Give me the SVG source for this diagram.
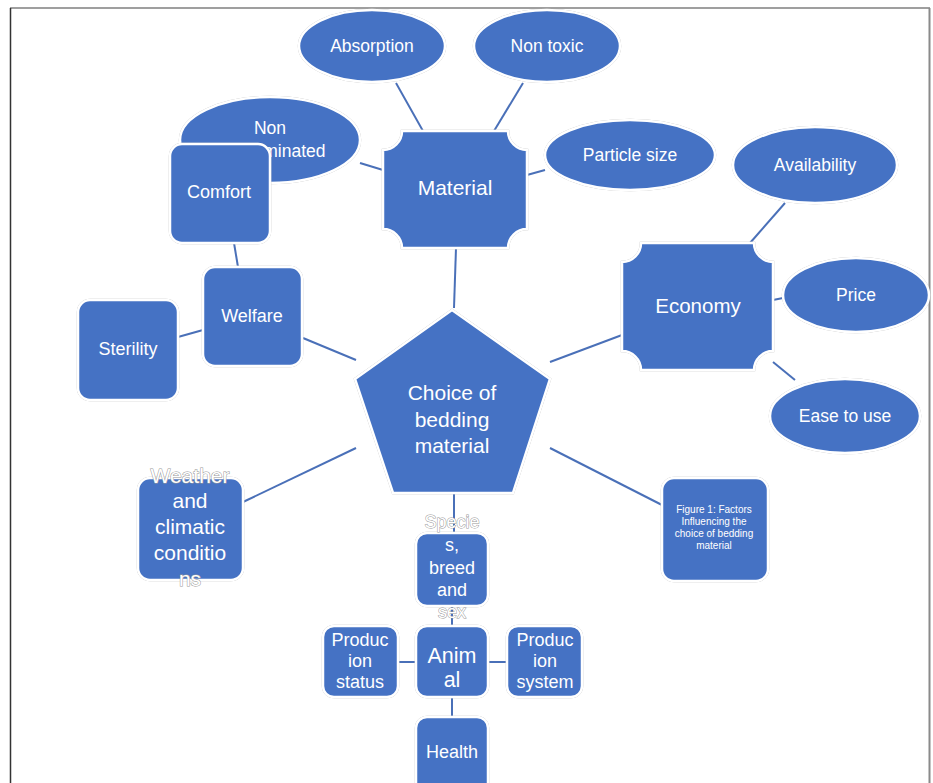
<svg xmlns="http://www.w3.org/2000/svg" width="933" height="783" viewBox="0 0 933 783">
<defs>
<style>
.n{fill:#4472C4;stroke:#fff;stroke-width:2.5;filter:url(#sh)}
.t{fill:#fff;font-family:"Liberation Sans",Arial,sans-serif;text-anchor:middle}
.ov{stroke:#999;stroke-width:1;paint-order:stroke}
.c{stroke:#4a70b8;stroke-width:2;fill:none}
</style>
<filter id="sh" x="-10%" y="-10%" width="120%" height="120%">
<feDropShadow dx="0" dy="0" stdDeviation="0.7" flood-color="#8a8a8a" flood-opacity="0.9"/>
</filter>
</defs>
<rect width="933" height="783" fill="#fff"/>
<g id="frame" fill="none">
<line x1="10" y1="8" x2="930" y2="8" stroke="#7f7f7f" stroke-width="1.5"/>
<line x1="10.5" y1="8" x2="10.5" y2="783" stroke="#333" stroke-width="1.5"/>
<line x1="929.5" y1="8" x2="929.5" y2="783" stroke="#8a8a8a" stroke-width="2"/>
</g>
<g id="connectors">
<line class="c" x1="396" y1="83" x2="423" y2="131"/>
<line class="c" x1="523" y1="83" x2="494" y2="131"/>
<line class="c" x1="360" y1="163" x2="383" y2="170"/>
<line class="c" x1="527" y1="175" x2="545" y2="170"/>
<line class="c" x1="456" y1="248" x2="454" y2="308"/>
<line class="c" x1="356" y1="360" x2="303" y2="338"/>
<line class="c" x1="238" y1="267" x2="234" y2="243"/>
<line class="c" x1="203" y1="330" x2="178" y2="337"/>
<line class="c" x1="550" y1="362" x2="622" y2="335"/>
<line class="c" x1="750" y1="243" x2="785" y2="203"/>
<line class="c" x1="773" y1="300" x2="783" y2="298"/>
<line class="c" x1="773" y1="362" x2="795" y2="380"/>
<line class="c" x1="356" y1="448" x2="243" y2="502"/>
<line class="c" x1="550" y1="448" x2="662" y2="505"/>
<line class="c" x1="454" y1="493" x2="454" y2="533"/>
<line class="c" x1="452" y1="606" x2="452" y2="626"/>
<line class="c" x1="398" y1="662" x2="416" y2="662"/>
<line class="c" x1="487" y1="662" x2="507" y2="662"/>
<line class="c" x1="452" y1="697" x2="452" y2="717"/>
</g>
<g id="absorption"><ellipse class="n" cx="372" cy="46" rx="73" ry="36"/><text class="t" x="372" y="52" font-size="17.5">Absorption</text></g>
<g id="nontoxic"><ellipse class="n" cx="547" cy="46" rx="73" ry="36"/><text class="t" x="547" y="52" font-size="17.5">Non toxic</text></g>
<g id="noncontaminated"><ellipse class="n" cx="270" cy="140" rx="90" ry="43"/><text class="t" x="270" y="134" font-size="17.5">Non</text><text class="t" x="273" y="157" font-size="17.5">contaminated</text></g>
<g id="particlesize"><ellipse class="n" cx="630" cy="155" rx="85" ry="35"/><text class="t" x="630" y="161" font-size="17.5">Particle size</text></g>
<g id="availability"><ellipse class="n" cx="815" cy="165" rx="82" ry="38"/><text class="t" x="815" y="171" font-size="17.5">Availability</text></g>
<g id="price"><ellipse class="n" cx="856" cy="295" rx="73" ry="37"/><text class="t" x="856" y="301" font-size="17.5">Price</text></g>
<g id="easetouse"><ellipse class="n" cx="845" cy="416" rx="75" ry="37"/><text class="t" x="845" y="422" font-size="17.5">Ease to use</text></g>
<g id="material"><path class="n" d="M402,131 H508 A19,19 0 0 0 527,150 V229 A19,19 0 0 0 508,248 H402 A19,19 0 0 0 383,229 V150 A19,19 0 0 0 402,131 Z"/><text class="t" x="455" y="195" font-size="21">Material</text></g>
<g id="economy"><path class="n" d="M641,243 H754 A19,19 0 0 0 773,262 V351 A19,19 0 0 0 754,370 H641 A19,19 0 0 0 622,351 V262 A19,19 0 0 0 641,243 Z"/><text class="t" x="698" y="313" font-size="20.5">Economy</text></g>
<g id="comfort"><rect class="n" x="170" y="144" width="100" height="99" rx="12"/><text class="t" x="219" y="198" font-size="18">Comfort</text></g>
<g id="welfare"><rect class="n" x="203" y="267" width="99" height="99" rx="12"/><text class="t" x="252" y="322" font-size="18">Welfare</text></g>
<g id="sterility"><rect class="n" x="78" y="300" width="100" height="100" rx="12"/><text class="t" x="128" y="355" font-size="18">Sterility</text></g>
<g id="choice"><polygon class="n" points="452,310 550,379 513,493 393,493 355,379"/><text class="t" x="452" y="400" font-size="21">Choice of</text><text class="t" x="452" y="427" font-size="21">bedding</text><text class="t" x="452" y="453" font-size="21">material</text></g>
<g id="weather"><rect class="n" x="138" y="478" width="105" height="102" rx="12"/><text class="t ov" x="190" y="483" font-size="21">Weather</text><text class="t" x="190" y="508" font-size="21">and</text><text class="t" x="190" y="534" font-size="21">climatic</text><text class="t" x="190" y="560" font-size="21">conditio</text><text class="t ov" x="190" y="586" font-size="21">ns</text></g>
<g id="figure"><rect class="n" x="662" y="478" width="106" height="103" rx="12"/><text class="t" x="714" y="513" font-size="10">Figure 1: Factors</text><text class="t" x="714" y="525" font-size="10">Influencing  the</text><text class="t" x="714" y="537" font-size="10">choice  of bedding</text><text class="t" x="714" y="549" font-size="10">material</text></g>
<g id="species"><rect class="n" x="416" y="533" width="72" height="73" rx="11"/><text class="t ov" x="452" y="528" font-size="18">Specie</text><text class="t" x="452" y="551" font-size="18">s,</text><text class="t" x="452" y="574" font-size="18">breed</text><text class="t" x="452" y="596" font-size="18">and</text><text class="t ov" x="452" y="618" font-size="18">sex</text></g>
<g id="animal"><rect class="n" x="416" y="626" width="72" height="71" rx="11"/><text class="t" x="452" y="663" font-size="21.5">Anim</text><text class="t" x="452" y="687" font-size="21.5">al</text></g>
<g id="productionstatus"><rect class="n" x="323" y="626" width="75" height="71" rx="11"/><text class="t" x="360" y="646" font-size="18">Produc</text><text class="t" x="360" y="667" font-size="18">ion</text><text class="t" x="360" y="688" font-size="18">status</text></g>
<g id="productionsystem"><rect class="n" x="507" y="626" width="75" height="71" rx="11"/><text class="t" x="545" y="646" font-size="18">Produc</text><text class="t" x="545" y="667" font-size="18">ion</text><text class="t" x="545" y="688" font-size="18">system</text></g>
<g id="health"><rect class="n" x="416" y="717" width="72" height="80" rx="11"/><text class="t" x="452" y="758" font-size="18">Health</text></g>
</svg>
